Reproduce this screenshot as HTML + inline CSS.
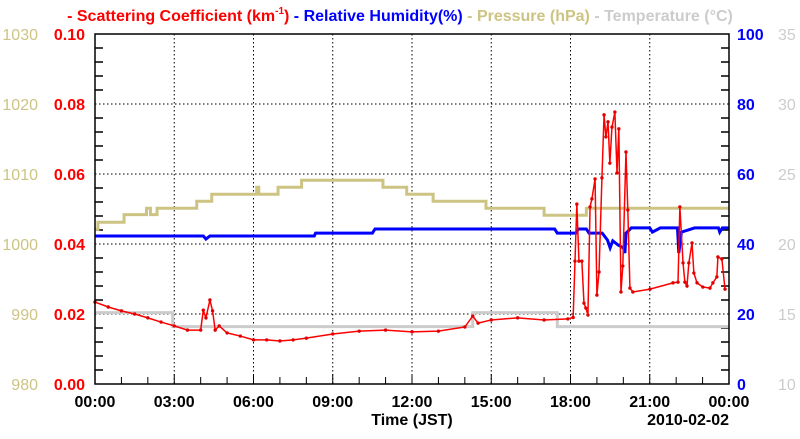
<!DOCTYPE html>
<html><head><meta charset="utf-8"><style>
body{margin:0;background:#fff;}
svg text{font-family:"Liberation Sans",sans-serif;}
</style></head><body>
<svg id="chart" width="800" height="434" xmlns="http://www.w3.org/2000/svg"></svg>
<script>
// Scattering coefficient (km^-1)
const scatHours=[0,0.5,1,1.5,2,2.5,3,3.5,4.0,4.1,4.2,4.35,4.45,4.55,4.7,5,5.5,6,6.5,7,7.5,8,9,10,11,12,13,14,14.3,14.5,15,16,17,17.9,18.1,18.17,18.24,18.32,18.43,18.51,18.58,18.66,18.74,18.81,18.93,19.0,19.08,19.19,19.27,19.34,19.42,19.49,19.57,19.68,19.76,19.83,19.91,19.98,20.1,20.17,20.25,20.36,21.01,21.88,22.07,22.14,22.26,22.33,22.41,22.48,22.6,22.67,22.79,23.01,23.28,23.39,23.54,23.58,23.73,23.85];
const scatValues=[0.0234,0.022,0.0209,0.02,0.0189,0.0177,0.0166,0.0154,0.0154,0.0211,0.0189,0.024,0.0209,0.0154,0.0166,0.0146,0.0137,0.0126,0.0126,0.0123,0.0126,0.0131,0.0143,0.0151,0.0154,0.0149,0.0151,0.0163,0.0194,0.0174,0.0183,0.0189,0.0183,0.0186,0.019,0.0351,0.0514,0.0351,0.0351,0.0231,0.0217,0.0197,0.0506,0.0529,0.0586,0.0254,0.032,0.0589,0.0769,0.0706,0.0749,0.0631,0.0734,0.0777,0.0603,0.0729,0.0263,0.0337,0.0663,0.0497,0.0274,0.0263,0.0271,0.0289,0.0291,0.0506,0.0346,0.0291,0.028,0.0346,0.0403,0.0317,0.0289,0.0277,0.0274,0.0289,0.0306,0.0363,0.0357,0.0271];
// Relative humidity (%)
const rhHours=[0,4.1,4.2,4.35,8.3,8.35,10.5,10.6,17.4,17.5,18.2,18.3,18.6,18.7,19.2,19.4,19.5,19.6,19.8,20.0,20.06,20.1,20.3,21.0,21.1,21.4,22.05,22.1,22.2,22.7,23.6,23.65,23.75,24];
const rhValues=[42.3,42.3,41.4,42.3,42.3,43.1,43.1,44.3,44.3,43.1,43.1,44.3,44.3,43.1,43.1,41.1,38.9,40.9,39.7,38.9,37.4,43.1,44.6,44.6,43.4,44.6,44.6,37.4,43.4,44.6,44.6,43.4,44.6,44.6];
// Pressure (hPa), step start hours
const presHours=[0,0.11,1.1,1.95,2.1,2.35,3.85,4.42,6.12,6.2,6.93,7.82,10.9,11.8,12.8,14.8,17,18.6];
const presValues=[1002.1,1003.1,1004.2,1005.1,1004.2,1005.1,1006.1,1007.1,1008.1,1007.1,1008.1,1009.1,1008.1,1007.1,1006.1,1005.1,1004.1,1005.1];
// Temperature (C), step start hours
const tempHours=[0,2.94,14.3,17.5];
const tempValues=[15.1,14.1,15.1,14.1];
const xTickLabels=["00:00","03:00","06:00","09:00","12:00","15:00","18:00","21:00","00:00"];
const scatTicks=["0.00","0.02","0.04","0.06","0.08","0.10"];
const presTicks=["980","990","1000","1010","1020","1030"];
const rhTicks=["0","20","40","60","80","100"];
const tempTicks=["10","15","20","25","30","35"];

const L=95,R=729,T=34,B=384;
const X=h=>L+h/24*(R-L);
const YS=v=>B-v/0.1*(B-T);
const YRH=v=>B-v/100*(B-T);
const YP=v=>B-(v-980)/50*(B-T);
const YT=v=>B-(v-10)/25*(B-T);
const svg=document.getElementById('chart');
const NS="http://www.w3.org/2000/svg";
function mk(tag,attrs,parent){const e=document.createElementNS(NS,tag);for(const k in attrs)e.setAttribute(k,attrs[k]);(parent||svg).appendChild(e);return e;}

// grid
for(let i=1;i<8;i++){const g=mk('line',{x1:X(i*3),x2:X(i*3),y1:T,y2:B,stroke:'#000','stroke-width':1,'stroke-dasharray':'1.5,2.5'});

}
for(let i=1;i<5;i++){const y=YS(i*0.02);const g=mk('line',{x1:L,x2:R,y1:y,y2:y,stroke:'#000','stroke-width':1,'stroke-dasharray':'1.5,2.5'});

}
// minor ticks
for(let i=1;i<25;i++){if(i%5===0)continue;const y=B-i*14;
const t1=mk('line',{x1:L,x2:L+8,y1:y,y2:y,stroke:'#000','stroke-width':1.5});


const t2=mk('line',{x1:R-8,x2:R,y1:y,y2:y,stroke:'#000','stroke-width':1.5});

}
for(let h=1;h<24;h++){const x=X(h);const len=h%3===0?10:7;
const t=mk('line',{x1:x,x2:x,y1:B-len,y2:B,stroke:'#000','stroke-width':1});

}

function stepPath(hs,vs,yf){let d='';for(let i=0;i<hs.length;i++){const x=X(hs[i]),y=yf(vs[i]);d+=(i===0?'M':'L')+x+','+y;const nx=i<hs.length-1?X(hs[i+1]):R;d+='L'+nx+','+y;}return d;}
const tp=mk('path',{d:stepPath(tempHours,tempValues,YT),fill:'none',stroke:'#cccccc','stroke-width':3});


const pp=mk('path',{d:stepPath(presHours,presValues,YP),fill:'none',stroke:'#cdc483','stroke-width':3});


const rp=mk('path',{d:rhHours.map((h,i)=>(i?'L':'M')+X(h)+','+YRH(rhValues[i])).join(''),fill:'none',stroke:'#0000ff','stroke-width':3});


const sp=mk('path',{d:scatHours.map((h,i)=>(i?'L':'M')+X(h)+','+YS(scatValues[i])).join(''),fill:'none',stroke:'#ff0000','stroke-width':1.5});


scatHours.forEach((h,i)=>{const c=mk('circle',{cx:X(h),cy:YS(scatValues[i]),r:1.7,fill:'#e00000'});

});

// frame
const fr=mk('rect',{x:L,y:T,width:R-L,height:B-T,fill:'none',stroke:'#000','stroke-width':1.5});



function txt(s,x,y,attrs,name){const t=mk('text',Object.assign({x:x,y:y,'font-size':16},attrs));t.textContent=s;

return t;}
for(let i=0;i<6;i++){const y=B-i*70+6;
txt(scatTicks[i],85,y,{'text-anchor':'end',fill:'#ff0000','font-weight':'bold'},'left-y-tick-label');
txt(presTicks[i],38,y,{'text-anchor':'end',fill:'#cdc483'},'pressure-tick-label');
txt(rhTicks[i],737,y,{fill:'#0000ff','font-weight':'bold'},'right-y-tick-label');
txt(tempTicks[i],778,y,{'text-anchor':'start',fill:'#cccccc'},'temperature-tick-label');}
for(let i=0;i<9;i++)txt(xTickLabels[i],X(i*3),407,{'text-anchor':'middle','font-weight':'bold'},'x-tick-label');
txt('Time (JST)',X(12),425,{'text-anchor':'middle','font-weight':'bold'},'x-axis-title');
txt('2010-02-02',R,425,{'text-anchor':'end','font-weight':'bold'},'date-label');

const lg=mk('text',{x:400,y:21,'text-anchor':'middle','font-size':16,'font-weight':'bold'});


lg.innerHTML='<tspan fill="#ff0000">- Scattering Coefficient (km<tspan font-size="10" dy="-7">-1</tspan><tspan dy="7">)</tspan></tspan><tspan fill="#0000ff"> - Relative Humidity(%)</tspan><tspan fill="#cdc483"> - Pressure (hPa)</tspan><tspan fill="#cccccc"> - Temperature (°C)</tspan>';
</script>
</body></html>
